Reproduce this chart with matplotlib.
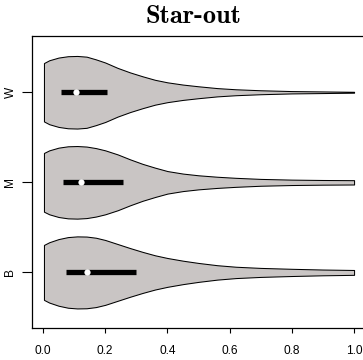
import os
import numpy as np
import matplotlib
matplotlib.use("Agg")
import matplotlib.pyplot as plt
from matplotlib.font_manager import FontProperties

# categories bottom -> top
groups = ["B", "M", "W"]

# violin outline: half-width at each x position
grid_x = [0.003, 0.02, 0.05, 0.08, 0.11, 0.14, 0.17, 0.20, 0.24, 0.28, 0.32,
          0.36, 0.40, 0.45, 0.50, 0.56, 0.62, 0.70, 0.80, 0.90, 1.0]
half_w_B = [0.305, 0.335, 0.37, 0.392, 0.40, 0.398, 0.385, 0.36, 0.315, 0.27, 0.228,
            0.19, 0.16, 0.13, 0.105, 0.08, 0.063, 0.05, 0.04, 0.032, 0.027]
half_w_M = [0.326, 0.355, 0.385, 0.40, 0.403, 0.397, 0.38, 0.355, 0.31, 0.255, 0.205,
            0.163, 0.125, 0.097, 0.078, 0.062, 0.05, 0.038, 0.03, 0.026, 0.024]
half_w_W = [0.324, 0.355, 0.385, 0.40, 0.403, 0.395, 0.365, 0.33, 0.27, 0.22, 0.177,
            0.138, 0.11, 0.085, 0.066, 0.046, 0.033, 0.022, 0.013, 0.009, 0.005]

# box summary per group
q1 = [0.073, 0.063, 0.058]
median = [0.142, 0.122, 0.107]
q3 = [0.298, 0.256, 0.205]

fill_col = "#c9c5c4"

fig = plt.figure(figsize=(3.63, 3.6), dpi=100)
ax = fig.add_axes([0.0882, 0.0889, 0.9146, 0.812])

for i, hw in enumerate([half_w_B, half_w_M, half_w_W]):
    pos = i + 1
    hw = np.array(hw)
    ax.fill_between(grid_x, pos - hw, pos + hw, facecolor=fill_col,
                    edgecolor="black", linewidth=0.75, zorder=2)
    ax.plot([q1[i], q3[i]], [pos, pos], color="black", linewidth=3.8,
            solid_capstyle="butt", zorder=3)
    ax.plot(median[i], pos, "o", color="white", markersize=4.5,
            markeredgewidth=0, zorder=4)

ax.set_xlim(-0.0354, 1.032)
ax.set_ylim(0.383, 3.628)
ax.set_xticks([0.0, 0.2, 0.4, 0.6, 0.8, 1.0])
ax.set_xticklabels(["0.0", "0.2", "0.4", "0.6", "0.8", "1.0"])
ax.set_yticks([1, 2, 3])
ax.set_yticklabels(groups, rotation=90, va="center")

for lab in ax.get_xticklabels() + ax.get_yticklabels():
    lab.set_fontfamily("Liberation Sans")
    lab.set_fontsize(8.6)

ax.tick_params(axis="x", direction="out", length=3.6, width=0.8, pad=9)
ax.tick_params(axis="y", direction="out", length=7.2, width=0.8, pad=4)
for sp in ax.spines.values():
    sp.set_linewidth(0.9)

cmb = FontProperties(fname=os.path.join(matplotlib.get_data_path(), "fonts", "ttf", "cmb10.ttf"), size=19)
fig.text(0.532, 0.935, "Star-out", fontproperties=cmb, ha="center", va="baseline")

fig.savefig("out.png", dpi=100)
